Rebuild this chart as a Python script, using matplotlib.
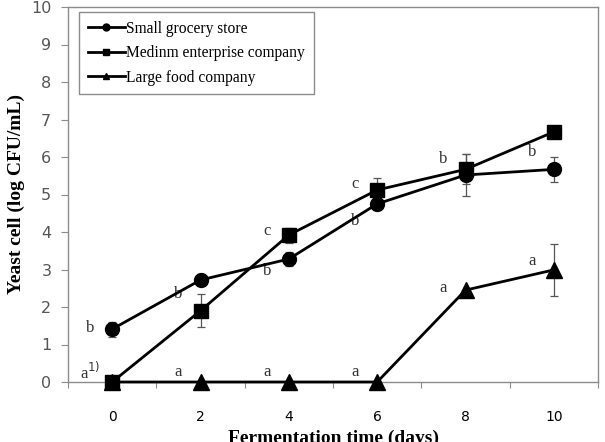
import numpy as np
import matplotlib.pyplot as plt
from matplotlib.lines import Line2D

days = ['0', '2', '4', '6', '8', '10']

small_store = [1.41, 2.72, 3.28, 4.75, 5.52, 5.67]
small_err = [0.20, 0.15, 0.18, 0.15, 0.57, 0.33]
medium_company = [0.0, 1.90, 3.92, 5.12, 5.67, 6.67]
medium_err = [0.0, 0.44, 0.20, 0.32, 0.40, 0.0]
large_company = [0.0, 0.0, 0.0, 0.0, 2.45, 2.99]
large_err = [0.0, 0.0, 0.0, 0.0, 0.0, 0.70]

series_names = ['Small grocery store', 'Medinm enterprise company', 'Large food company']

# significance letters: (category index, y position, text)
letters = [
    (0, 1.45, 'b'), (0, 0.27, 'a$^{1)}$'),
    (1, 2.35, 'b'), (1, 0.27, 'a'),
    (2, 4.02, 'c'), (2, 2.95, 'b'), (2, 0.27, 'a'),
    (3, 5.28, 'c'), (3, 4.30, 'b'), (3, 0.27, 'a'),
    (4, 5.95, 'b'), (4, 2.52, 'a'),
    (5, 6.12, 'b'), (5, 3.22, 'a'),
]

serif = 'Liberation Serif'
gray = '#8c8c8c'

fig = plt.figure(figsize=(6.05, 4.42), dpi=100)
ax = fig.add_axes([68 / 605, 1 - 382 / 442, 530 / 605, 375 / 442])

x = np.arange(len(days))
styles = [('o', small_store, small_err, 10), ('s', medium_company, medium_err, 10),
          ('^', large_company, large_err, 11)]
for marker, vals, err, ms in styles:
    line, caps, bars = ax.errorbar(x, vals, yerr=err, color='black', lw=2, marker=marker,
                                   ms=ms, ecolor='#555555', elinewidth=0.9, capsize=3,
                                   capthick=0.9, zorder=3)
    line.set_clip_on(False)

for i, yv, txt in letters:
    ax.text(i - 0.25, yv, txt, family=serif, fontsize=12, color='#333333',
            ha='center', va='center')

ax.set_xlim(-0.5, len(days) - 0.5)
ax.set_ylim(0, 10)
ax.set_yticks(range(0, 11))
ax.set_xticks(np.arange(-0.5, len(days)), labels=[''] * (len(days) + 1))
ax.set_xticks(x, labels=days, minor=True)
ax.tick_params(axis='x', which='minor', length=0, pad=20)
ax.tick_params(axis='x', which='major', length=4, color=gray)
ax.tick_params(axis='y', length=5, color=gray, pad=7)
ax.tick_params(labelsize=11.5, labelcolor='#555555')
for sp in ax.spines.values():
    sp.set_color(gray)
    sp.set_linewidth(1)

ax.set_ylabel('Yeast cell (log CFU/mL)', family=serif, fontweight='bold',
              fontsize=14, labelpad=4)
ax.set_xlabel('Fermentation time (days)', family=serif, fontweight='bold',
              fontsize=14, labelpad=4)

handles = [Line2D([], [], color='black', lw=2, marker=m, ms=5) for m in ['o', 's', '^']]
leg = ax.legend(handles, series_names, loc='upper left',
                bbox_to_anchor=(11 / 530, 1 - 5 / 375), borderaxespad=0,
                prop={'family': serif, 'size': 11.2}, handlelength=2.4, handletextpad=0.1,
                labelspacing=0.55, borderpad=0.55, fancybox=False, framealpha=1)
leg.get_frame().set_edgecolor(gray)
leg.get_frame().set_linewidth(1)

fig.savefig('out.png', dpi=100)
